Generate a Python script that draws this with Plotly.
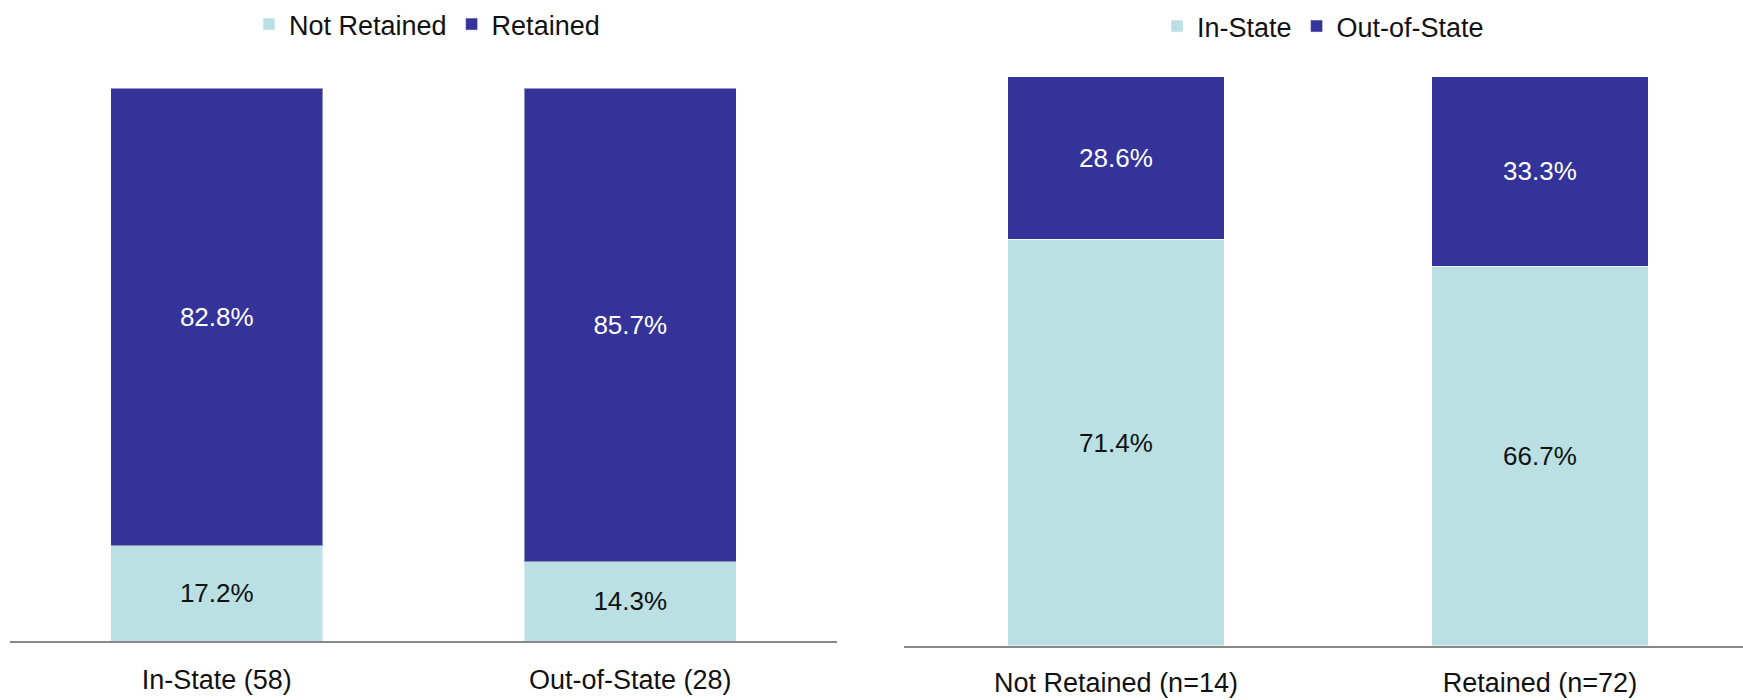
import plotly.graph_objects as go

# Retention split by residency (left) and residency split by retention (right)
left_categories = ["In-State (58)", "Out-of-State (28)"]
left_not_retained = [17.2, 14.3]
left_retained = [82.8, 85.7]

right_categories = ["Not Retained (n=14)", "Retained (n=72)"]
right_in_state = [71.4, 66.7]
right_out_of_state = [28.6, 33.3]

LIGHT = "#BAE0E3"
DARK = "#343399"
EDGE = "rgba(255,255,255,0.45)"
LABEL_FONT = "Liberation Sans, Arial, sans-serif"

W, H = 1743, 700

fig = go.Figure()


def add_bar(x, y, name, color, text_color, xaxis, yaxis, legend, width):
    fig.add_trace(go.Bar(
        x=x, y=y, name=name,
        marker=dict(color=color, line=dict(color=EDGE, width=1)),
        width=width,
        texttemplate="%{y:.1f}%",
        textposition="inside",
        insidetextanchor="middle",
        textangle=0,
        constraintext="none",
        textfont=dict(family=LABEL_FONT, size=26, color=text_color),
        xaxis=xaxis, yaxis=yaxis, legend=legend,
        hoverinfo="skip",
    ))


add_bar(left_categories, left_not_retained, "Not Retained", LIGHT, "#111111", "x", "y", "legend", 0.512)
add_bar(left_categories, left_retained, "Retained", DARK, "white", "x", "y", "legend", 0.512)
add_bar(right_categories, right_in_state, "In-State", LIGHT, "#111111", "x2", "y2", "legend2", 0.51)
add_bar(right_categories, right_out_of_state, "Out-of-State", DARK, "white", "x2", "y2", "legend2", 0.51)

xaxis_common = dict(
    type="category",
    automargin=False,
    showline=True, linecolor="#888888", linewidth=2,
    showgrid=False, zeroline=False,
    ticks="outside", tickcolor="rgba(0,0,0,0)",
    tickfont=dict(family=LABEL_FONT, size=27, color="#111111"),
    fixedrange=True,
)
yaxis_common = dict(
    range=[0, 100], automargin=False, showgrid=False, zeroline=False,
    showticklabels=False, showline=False, fixedrange=True,
)

# Legends sit flush with the top edge so they never push the plot margins
legend_common = dict(
    orientation="h",
    xanchor="center", yanchor="top",
    font=dict(family=LABEL_FONT, size=27, color="#111111"),
    bgcolor="rgba(0,0,0,0)",
    traceorder="normal",
)

fig.update_layout(
    template="none",
    width=W, height=H,
    margin=dict(l=0, r=0, t=0, b=0),
    paper_bgcolor="white", plot_bgcolor="white",
    barmode="stack",
    xaxis=dict(xaxis_common, domain=[10 / W, 837 / W], range=[-0.5, 1.5], ticklen=14),
    yaxis=dict(yaxis_common, domain=[(H - 641) / H, (H - 88.3) / H]),
    xaxis2=dict(xaxis_common, domain=[904 / W, 1.0], range=[-0.5, 1.479], anchor="y2", ticklen=12),
    yaxis2=dict(yaxis_common, domain=[(H - 645.7) / H, (H - 76.7) / H], anchor="x2"),
    legend=dict(legend_common, x=427 / W, y=1.0),
    legend2=dict(legend_common, x=1323 / W, y=1 - 2 / H),
    showlegend=True,
)

fig.write_html("out.html")
